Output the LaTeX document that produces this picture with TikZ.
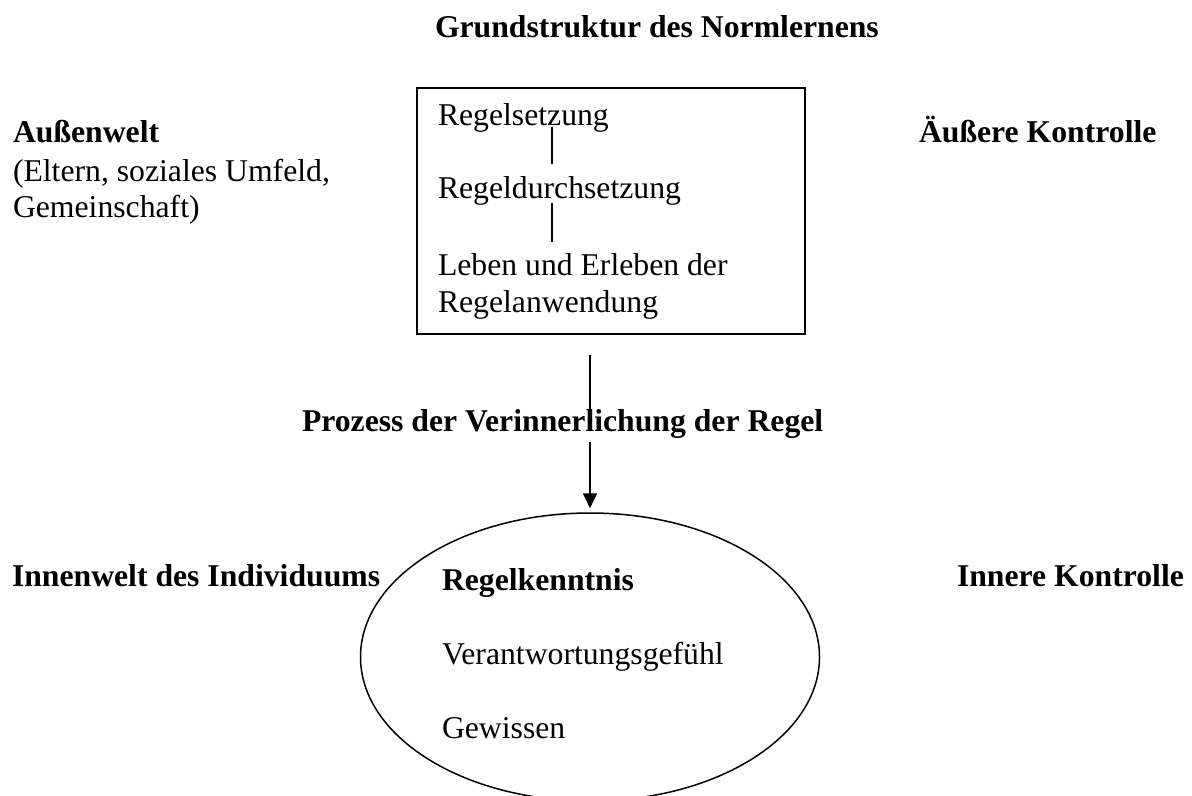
\documentclass[tikz,border=0pt]{standalone}
\usepackage{fontspec}
\setmainfont{Liberation Serif}
\usetikzlibrary{arrows.meta,shapes.geometric}
\begin{document}
\begin{tikzpicture}[x=0.5pt,y=-0.5pt,
  txt/.style={anchor=base west,inner sep=0pt,outer sep=0pt,font=\fontsize{15.85pt}{18.75pt}\selectfont},
  btxt/.style={txt,font=\fontsize{15.85pt}{18.75pt}\selectfont\bfseries},
  conn/.style={line width=0.85pt},
  arr/.style={line width=0.85pt,-{Triangle[width=7pt,length=7.5pt]}}]
\useasboundingbox (0,0) rectangle (1192,796);
\clip (0,0) rectangle (1192,796);
% title
\node[btxt] (title) at (435,38) {Grundstruktur des Normlernens};
% left / right labels
\node[btxt] (aw) at (13,143) {Außenwelt};
\node[txt] (aw2) at (13,182) {(Eltern, soziales Umfeld,};
\node[txt] (aw3) at (13,218) {Gemeinschaft)};
\node[btxt] (ak) at (919,143) {Äußere Kontrolle};
\node[btxt] (iw) at (12,586) {Innenwelt des Individuums};
\node[btxt] (ik) at (957,586) {Innere Kontrolle};
% box
\node[draw,line width=1pt,minimum width=194pt,minimum height=123pt,inner sep=0pt] (box) at (611,211) {};
\node[txt] (r1) at (438,126) {Regelsetzung};
\node[txt] (r2) at (438,199) {Regeldurchsetzung};
\node[txt] (r3) at (438,276) {Leben und Erleben der};
\node[txt] (r4) at (438,313) {Regelanwendung};
\coordinate (l1a) at (552,127);
\coordinate (l1b) at (552,164);
\coordinate (l2a) at (552,203);
\coordinate (l2b) at (552,242);
\draw[conn] (l1a) -- (l1b);
\draw[conn] (l2a) -- (l2b);
% process
\node[btxt] (proz) at (302,431) {Prozess der Verinnerlichung der Regel};
\coordinate (pa) at (590,355);
\coordinate (pb) at (590,412);
\coordinate (pc) at (590,442);
% ellipse
\node[draw,ellipse,line width=0.75pt,minimum width=229.5pt,minimum height=144pt,inner sep=0pt] (ell) at (590,657) {};
\node[btxt] (e1) at (442,590) {Regelkenntnis};
\node[txt] (e2) at (442,664) {Verantwortungsgefühl};
\node[txt] (e3) at (442,738) {Gewissen};
\draw[conn] (pa) -- (pb);
\draw[arr] (pc) -- ([yshift=2pt]ell.north);
\end{tikzpicture}
\end{document}
